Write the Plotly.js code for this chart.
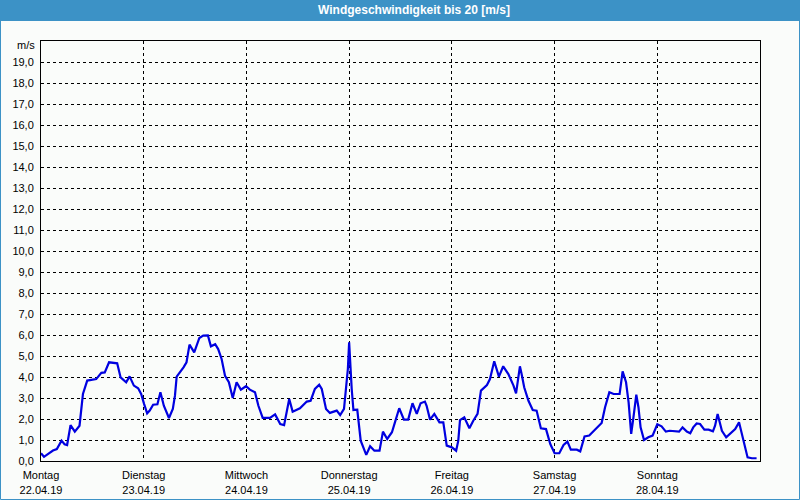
<!DOCTYPE html>
<html>
<head>
<meta charset="utf-8">
<script src="https://cdn.plot.ly/plotly-3.0.1.min.js"></script>
<style>
html,body{margin:0;padding:0;background:#fafcfa;}
#chart{width:800px;height:500px;}
</style>
</head>
<body>
<div id="chart"></div>
<script>
// hours since Montag 22.04.19 00:00
const hours = [
  0, 0.7, 1.6, 2.8, 3.7, 4.8, 5.5, 6.1, 6.9, 7.9, 9.0, 9.4, 9.8, 10.8, 12.2, 12.9, 14.1, 14.9, 15.9, 16.8, 17.8, 18.6, 19.4, 19.9, 20.7, 21.7, 22.7, 23.4,
  24.1, 24.8, 25.4, 26.2, 27.2, 27.9, 28.7, 29.9, 30.8, 31.3, 31.7, 32.5, 33.3, 34.0, 34.7, 35.8, 37.0, 37.9, 39.0, 39.7, 40.7, 41.4, 42.2, 43.0, 43.9, 44.8, 45.7, 46.7, 47.9,
  48.8, 50.0, 50.8, 51.8, 53.5, 54.7, 55.9, 56.8, 58.0, 58.8, 60.5, 62.1, 63.0, 64.0, 65.0, 65.6, 66.6, 67.5, 69.1, 69.9, 70.8, 71.3, 71.7,
  72.0, 72.2, 72.6, 73.0, 73.9, 74.7, 76.0, 76.9, 77.9, 79.1, 79.9, 80.9, 82.0, 82.7, 83.7, 84.8, 85.8, 86.8, 87.8, 88.7, 89.7, 90.1, 90.9, 91.9, 93.1, 94.0, 94.8,
  96.0, 97.0, 97.5, 97.9, 98.9, 100.1, 101.0, 102.0, 102.8, 104.2, 104.9, 105.9, 107.0, 108.0, 109.2, 110.4, 111.0, 111.9, 112.3, 112.9, 113.9, 114.9, 115.8, 116.8, 118.0, 119.0,
  120.0, 121.1, 122.1, 123.0, 123.8, 125.2, 126.0, 127.0, 128.1, 129.5, 131.0, 131.8, 132.8, 133.8, 135.2, 135.9, 136.7, 137.3, 137.9, 138.4, 139.1, 139.6, 140.1, 140.9, 141.9, 142.9,
  144.0, 145.0, 146.0, 146.9, 148.1, 149.1, 149.9, 150.9, 151.7, 152.4, 153.2, 154.0, 155.0, 156.0, 157.0, 157.5, 158.1, 158.5, 159.1, 160.1, 161.0, 162.2, 163.1, 163.8, 164.3, 165.1, 166.1, 167.2
];
const speed = [
  0.37, 0.2, 0.33, 0.5, 0.57, 0.97, 0.8, 0.76, 1.71, 1.4, 1.68, 2.63, 3.19, 3.83, 3.86, 3.9, 4.2, 4.22, 4.7, 4.68, 4.65, 3.98, 3.83, 3.75, 4.03, 3.59, 3.46, 3.19,
  2.71, 2.27, 2.4, 2.68, 2.7, 3.27, 2.63, 2.05, 2.48, 3.11, 4.02, 4.22, 4.46, 4.7, 5.54, 5.17, 5.86, 5.97, 5.98, 5.46, 5.56, 5.33, 4.86, 4.06, 3.75, 3.0, 3.75, 3.4, 3.56,
  3.4, 3.27, 2.63, 2.05, 2.05, 2.22, 1.76, 1.71, 2.95, 2.35, 2.51, 2.83, 2.87, 3.43, 3.63, 3.43, 2.48, 2.29, 2.4, 2.19, 2.48, 3.59, 4.38,
  5.65, 4.86, 3.43, 2.43, 2.44, 0.97, 0.29, 0.7, 0.49, 0.49, 1.4, 1.05, 1.37, 1.84, 2.51, 1.97, 1.97, 2.75, 2.24, 2.75, 2.83, 2.63, 1.97, 2.24, 1.84, 1.84, 0.73,
  0.65, 0.49, 0.97, 1.95, 2.08, 1.56, 1.92, 2.24, 3.35, 3.62, 3.9, 4.75, 4.02, 4.51, 4.14, 3.59, 3.22, 4.51, 4.14, 3.51, 2.87, 2.43, 2.4, 1.56, 1.52, 0.81,
  0.37, 0.37, 0.76, 0.92, 0.54, 0.54, 0.46, 1.17, 1.21, 1.49, 1.81, 2.56, 3.27, 3.19, 3.19, 4.27, 3.75, 2.79, 1.29, 2.03, 3.16, 2.56, 1.6, 1.0, 1.13, 1.21,
  1.75, 1.65, 1.4, 1.44, 1.4, 1.4, 1.6, 1.4, 1.32, 1.6, 1.79, 1.76, 1.49, 1.49, 1.41, 1.68, 2.24, 1.92, 1.44, 1.13, 1.29, 1.52, 1.84, 1.21, 0.73, 0.17, 0.13, 0.13
];
const dayTicks = [0, 24, 48, 72, 96, 120, 144];
const dayNames = ["Montag", "Dienstag", "Mittwoch", "Donnerstag", "Freitag", "Samstag", "Sonntag"];
const dayDates = ["22.04.19", "23.04.19", "24.04.19", "25.04.19", "26.04.19", "27.04.19", "28.04.19"];
const yTicks = [0,1,2,3,4,5,6,7,8,9,10,11,12,13,14,15,16,17,18,19];
const yLabels = yTicks.map(v => v.toFixed(1).replace('.', ','));

const FONT = "Liberation Sans, Arial, sans-serif";
const BG = "#fafcfa";
const BAR = "#3c92c6";

const trace = {
  x: hours, y: speed, type: "scatter", mode: "lines",
  line: {color: "#0000e0", width: 2.2},
  hoverinfo: "skip"
};

const L = 41, R = 40, T = 41, B = 39;
const pw = 800 - L - R, ph = 500 - T - B;
const px = v => (v - L) / pw;           // pixel x -> paper
const py = v => (500 - B - v) / ph;     // pixel y -> paper

const layout = {
  width: 800, height: 500,
  margin: {l: L, r: R, t: T, b: B, pad: 0},
  paper_bgcolor: BG, plot_bgcolor: BG,
  showlegend: false,
  font: {family: FONT, size: 11, color: "#000"},
  title: {
    text: "<b>Windgeschwindigkeit bis 20 [m/s]</b>",
    font: {family: FONT, size: 12, color: "#ffffff"},
    xref: "container", yref: "container",
    x: 414/800, y: 1 - 10/500, xanchor: "center", yanchor: "middle"
  },
  xaxis: {
    range: [0, 168], tickmode: "array", tickvals: dayTicks,
    ticktext: dayNames.map((d, i) => d + "<br>" + dayDates[i]),
    showgrid: true, gridcolor: "#000", griddash: "3px,3px", gridwidth: 1,
    showline: true, linecolor: "#000", linewidth: 1, mirror: true,
    ticks: "outside", ticklen: 4, tickcolor: "rgba(0,0,0,0)", zeroline: false, fixedrange: true,
    tickfont: {family: FONT, size: 11, color: "#000"}
  },
  yaxis: {
    range: [0, 20], tickmode: "array", tickvals: yTicks, ticktext: yLabels,
    showgrid: true, gridcolor: "#000", griddash: "3px,3px", gridwidth: 1,
    showline: true, linecolor: "#000", linewidth: 1, mirror: true,
    ticks: "outside", ticklen: 4, tickcolor: "rgba(0,0,0,0)", zeroline: false, fixedrange: true,
    tickfont: {family: FONT, size: 11, color: "#000"}
  },
  shapes: [
    {type: "rect", xref: "paper", yref: "paper", layer: "below",
     x0: px(0), x1: px(800), y0: py(21), y1: py(0),
     fillcolor: BAR, line: {width: 0}},
    {type: "rect", xref: "paper", yref: "paper", layer: "above",
     x0: px(0.5), x1: px(799.5), y0: py(499.5), y1: py(0.5),
     fillcolor: "rgba(0,0,0,0)", line: {color: BAR, width: 1}}
  ],
  annotations: [
    {text: "m/s", xref: "paper", yref: "paper", x: px(37), y: py(45),
     xanchor: "right", yanchor: "middle", showarrow: false,
     font: {family: FONT, size: 11, color: "#000"}}
  ]
};

Plotly.newPlot("chart", [trace], layout, {displayModeBar: false, staticPlot: true});
</script>
</body>
</html>
